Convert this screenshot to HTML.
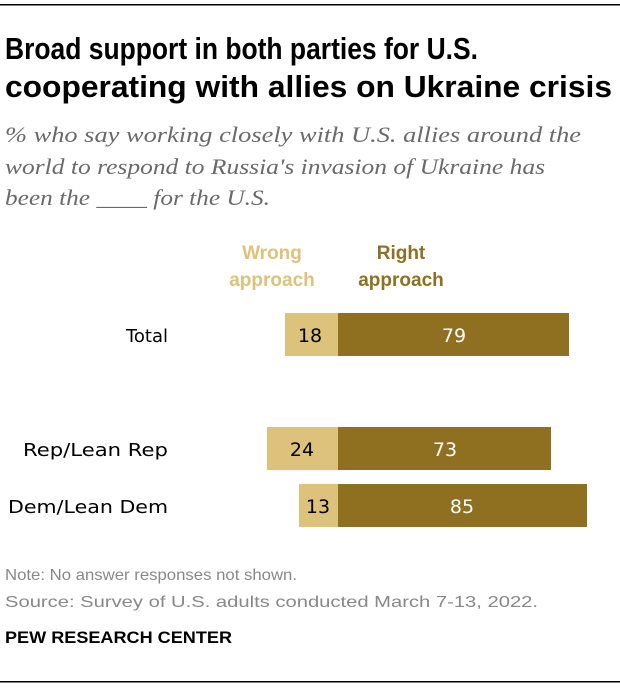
<!DOCTYPE html>
<html><head><meta charset="utf-8"><style>
html,body{margin:0;padding:0;background:#fff;}
svg{display:block;}
</style></head><body>
<svg width="620" height="690" xmlns="http://www.w3.org/2000/svg" font-family="Liberation Sans, sans-serif">
<rect x="0" y="4" width="620" height="1.5" fill="#000"/>
<text x="5" y="59" font-size="31" font-weight="bold" textLength="473" lengthAdjust="spacingAndGlyphs">Broad support in both parties for U.S.</text>
<text x="5" y="97" font-size="31" font-weight="bold" textLength="607" lengthAdjust="spacingAndGlyphs">cooperating with allies on Ukraine crisis</text>
<g font-family="Liberation Serif, serif" font-style="italic" font-size="22" fill="#6a6a6a">
<text x="5" y="142" textLength="576" lengthAdjust="spacingAndGlyphs">% who say working closely with U.S. allies around the</text>
<text x="5" y="174" textLength="540" lengthAdjust="spacingAndGlyphs">world to respond to Russia's invasion of Ukraine has</text>
<text x="5" y="205" textLength="265" lengthAdjust="spacingAndGlyphs">been the ____ for the U.S.</text>
</g>
<g font-size="19" font-weight="bold" text-anchor="middle">
<text x="272" y="259" fill="#dcc27a">Wrong</text>
<text x="272" y="286" fill="#dcc27a">approach</text>
<text x="401" y="259" fill="#8f6f20">Right</text>
<text x="401" y="286" fill="#8f6f20">approach</text>
</g>
<g font-family="DejaVu Sans, sans-serif" font-size="18" text-anchor="end" fill="#000">
<text x="168" y="342">Total</text>
<text x="168" y="456" textLength="145" lengthAdjust="spacingAndGlyphs">Rep/Lean Rep</text>
<text x="168" y="513" textLength="160" lengthAdjust="spacingAndGlyphs">Dem/Lean Dem</text>
</g>
<rect x="285" y="313" width="53" height="43" fill="#dcc27a"/>
<rect x="338" y="313" width="231" height="43" fill="#8f6f20"/>
<rect x="267" y="427" width="71" height="43" fill="#dcc27a"/>
<rect x="338" y="427" width="213" height="43" fill="#8f6f20"/>
<rect x="299" y="484" width="39" height="43" fill="#dcc27a"/>
<rect x="338" y="484" width="249" height="43" fill="#8f6f20"/>
<g font-family="DejaVu Sans, sans-serif" font-size="19" text-anchor="middle">
<text x="310" y="342" fill="#000">18</text>
<text x="454" y="342" fill="#fff">79</text>
<text x="302" y="456" fill="#000">24</text>
<text x="445" y="456" fill="#fff">73</text>
<text x="318" y="513" fill="#000">13</text>
<text x="462" y="513" fill="#fff">85</text>
</g>
<g font-size="16" fill="#888">
<text x="5" y="580" textLength="292" lengthAdjust="spacingAndGlyphs">Note: No answer responses not shown.</text>
<text x="5" y="607" textLength="533" lengthAdjust="spacingAndGlyphs">Source: Survey of U.S. adults conducted March 7-13, 2022.</text>
</g>
<text x="5" y="643" font-size="17" font-weight="bold" textLength="227" lengthAdjust="spacingAndGlyphs">PEW RESEARCH CENTER</text>
<rect x="0" y="681" width="620" height="1.5" fill="#000"/>
</svg>
</body></html>
